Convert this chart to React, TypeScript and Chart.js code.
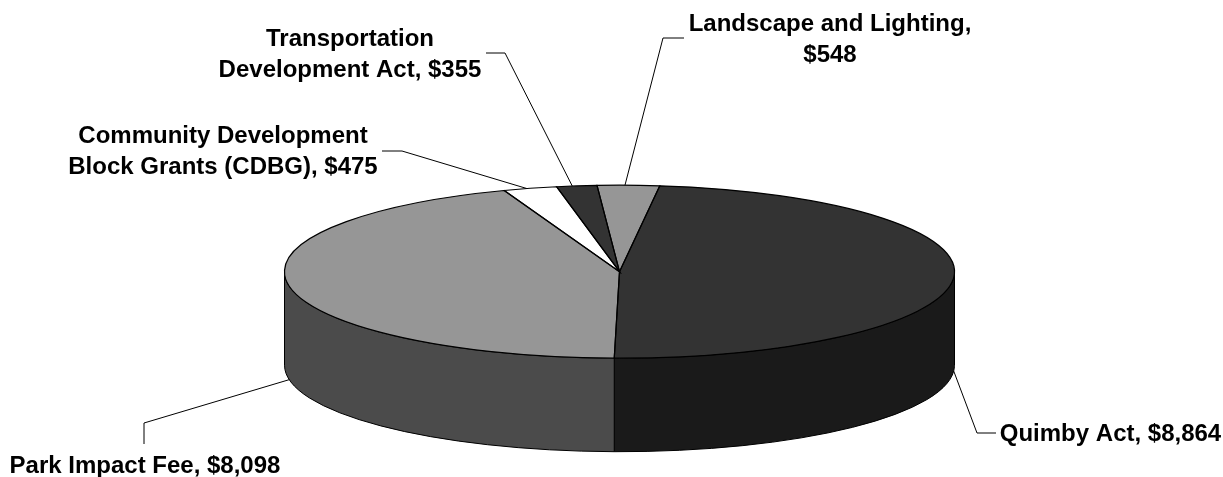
import React, { useEffect, useRef } from "react";
import { Chart, registerables } from "chart.js";

Chart.register(...registerables);

const categories = ["Landscape and Lighting", "Quimby Act", "Park Impact Fee", "Community Development Block Grants (CDBG)", "Transportation Development Act"];
const values = [548, 8864, 8098, 475, 355];
const topColors = ["#969696", "#333333", "#969696", "#ffffff", "#333333"];
const wallColors = ["#4b4b4b", "#1a1a1a", "#4b4b4b", "#7f7f7f", "#1a1a1a"];
const labelLines = [
  ["Landscape and Lighting,", "$548"],
  ["Quimby Act, $8,864"],
  ["Park Impact Fee, $8,098"],
  ["Community Development", "Block Grants (CDBG), $475"],
  ["Transportation", "Development Act, $355"],
];

const PIE = { cx: 619.5, cy: 271.7, rx: 335, ry: 86.5, depth: 93.5 };
const LABEL = [
  { x: 830, y: 31, path: [[663, 38], [684, 38]], wall: false, anchor: 0.445 },
  { x: 1110.5, y: 441, path: [[977, 433], [996, 433]], wall: true, anchor: 0.5 },
  { x: 145, y: 473, path: [[144, 423], [144, 444]], wall: true, anchor: 0.5 },
  { x: 223, y: 143, path: [[402, 151], [382, 151]], wall: false, anchor: 0.44 },
  { x: 350, y: 46, path: [[505, 53], [486, 53]], wall: false, anchor: 0.39 },
];
const LINE_HEIGHT = 30.5;
const FONT = "bold 24px 'Liberation Sans', Arial, sans-serif";

const TAU = Math.PI * 2;

const pie3d = {
  id: "pie3d",
  beforeDatasetsDraw(chart: any) {
    const { ctx } = chart;
    const { cx, cy, rx, ry, depth } = PIE;
    const arcs = chart.getDatasetMeta(0).data;
    arcs.forEach((arc: any, i: number) => {
      let s = arc.startAngle;
      let e = arc.endAngle;
      while (s < 0) { s += TAU; e += TAU; }
      while (s >= TAU) { s -= TAU; e -= TAU; }
      const ranges = [[s, e], [s - TAU, e - TAU]];
      ranges.forEach(([a, b]) => {
        const a0 = Math.max(a, 0);
        const a1 = Math.min(b, Math.PI);
        if (a1 <= a0) return;
        ctx.beginPath();
        ctx.ellipse(cx, cy, rx, ry, 0, a0, a1);
        ctx.ellipse(cx, cy + depth, rx, ry, 0, a1, a0, true);
        ctx.closePath();
        ctx.fillStyle = wallColors[i];
        ctx.fill();
        ctx.strokeStyle = "#000";
        ctx.lineWidth = 1;
        ctx.stroke();
      });
    });
    const first = arcs[0];
    const R = first.outerRadius;
    ctx.save();
    ctx.translate(cx, cy);
    ctx.scale(rx / R, ry / R);
    ctx.translate(-first.x, -first.y);
  },
  afterDatasetsDraw(chart: any) {
    const { ctx } = chart;
    ctx.restore();
    const { cx, cy, rx, ry, depth } = PIE;
    const arcs = chart.getDatasetMeta(0).data;
    ctx.strokeStyle = "#000";
    ctx.lineWidth = 1.2;
    arcs.forEach((arc: any) => {
      ctx.beginPath();
      ctx.moveTo(cx, cy);
      ctx.ellipse(cx, cy, rx, ry, 0, arc.startAngle, arc.endAngle);
      ctx.closePath();
      ctx.stroke();
    });
    ctx.lineWidth = 1;
    arcs.forEach((arc: any, i: number) => {
      const cfg = LABEL[i];
      const mid = arc.startAngle + (arc.endAngle - arc.startAngle) * cfg.anchor;
      ctx.beginPath();
      ctx.moveTo(cx + rx * Math.cos(mid), cy + ry * Math.sin(mid) + (cfg.wall ? depth : 0));
      cfg.path.forEach(([x, y]) => ctx.lineTo(x, y));
      ctx.stroke();
      ctx.font = FONT;
      ctx.fillStyle = "#000";
      ctx.textAlign = "center";
      ctx.textBaseline = "alphabetic";
      labelLines[i].forEach((t, k) => ctx.fillText(t, cfg.x, cfg.y + k * LINE_HEIGHT));
    });
  },
};

export default function App() {
  const ref = useRef<HTMLCanvasElement>(null);
  useEffect(() => {
    const chart = new Chart(ref.current!, {
      type: "pie",
      data: {
        labels: categories,
        datasets: [{ data: values, backgroundColor: topColors, borderWidth: 0 }],
      },
      options: {
        animation: false,
        responsive: false,
        devicePixelRatio: 1,
        rotation: -3.85,
        layout: { padding: 0 },
        plugins: { legend: { display: false }, tooltip: { enabled: false } },
      } as any,
      plugins: [pie3d],
    });
    return () => chart.destroy();
  }, []);
  return (
    <div style={{ position: "absolute", left: 0, top: 0, width: 1223, height: 477, background: "#fff" }}>
      <canvas ref={ref} width={1223} height={477} style={{ display: "block" }} />
    </div>
  );
}
